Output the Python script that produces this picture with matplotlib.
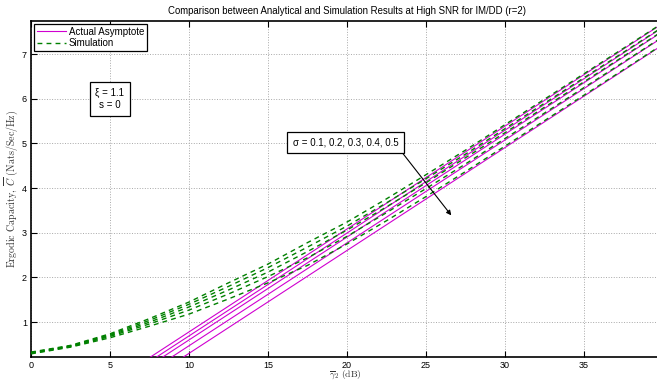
import numpy as np
import matplotlib.pyplot as plt

plt.rcParams['font.family'] = ['Liberation Sans', 'DejaVu Sans']
plt.rcParams['mathtext.fontset'] = 'cm'

# SNR grid of the simulation points (dB)
snr_db = [0, 2.5, 5, 7.5, 10, 12.5, 15, 17.5, 20, 22.5, 25, 27.5, 30, 32.5, 35, 37.5, 40]

# simulated ergodic capacity, one list per sigma (0.1 ... 0.5)
sim_01 = [0.33, 0.48, 0.74, 1.08, 1.45, 1.88, 2.30, 2.78, 3.24, 3.76, 4.30, 4.85, 5.42, 5.99, 6.56, 7.13, 7.70]
sim_02 = [0.32, 0.47, 0.72, 1.04, 1.40, 1.80, 2.22, 2.68, 3.15, 3.67, 4.21, 4.76, 5.33, 5.90, 6.47, 7.04, 7.61]
sim_03 = [0.31, 0.46, 0.70, 1.00, 1.34, 1.72, 2.12, 2.58, 3.06, 3.58, 4.12, 4.68, 5.24, 5.81, 6.38, 6.95, 7.52]
sim_04 = [0.30, 0.45, 0.68, 0.96, 1.27, 1.63, 2.02, 2.44, 2.92, 3.45, 3.99, 4.54, 5.11, 5.68, 6.25, 6.82, 7.39]
sim_05 = [0.29, 0.44, 0.65, 0.91, 1.18, 1.52, 1.88, 2.27, 2.75, 3.27, 3.81, 4.37, 4.94, 5.51, 6.08, 6.65, 7.22]
sims = [sim_01, sim_02, sim_03, sim_04, sim_05]

# asymptotes (straight lines) given by their values at 5 dB and 40 dB
asym_x = [5, 40]
asym_lo = [-0.37, -0.46, -0.55, -0.68, -0.85]
asym_hi = [7.69, 7.60, 7.51, 7.38, 7.21]

fig = plt.figure(figsize=(6.57, 3.83), dpi=100)
ax = fig.add_axes([31 / 657, 26 / 383, 40 * 15.8 / 657, 336 / 383])

for i in range(5):
    ax.plot(asym_x, [asym_lo[i], asym_hi[i]], color='#d000d0', lw=0.8,
            label='Actual Asymptote' if i == 0 else None, zorder=3)
for i, s in enumerate(sims):
    ax.plot(snr_db, s, color='#008000', lw=1.0, dashes=(3.5, 3),
            label='Simulation' if i == 0 else None, zorder=4)

ax.set_xlim(0, 40)
ax.set_ylim(0.22, 7.74)
ax.set_xticks([0, 5, 10, 15, 20, 25, 30, 35])
ax.set_yticks([1, 2, 3, 4, 5, 6, 7])
ax.tick_params(direction='in', labelsize=6.5, length=4, width=0.8, top=True, pad=3)
ax.grid(True, linestyle=':', color='#a8a8a8', lw=0.7)
for sp in ax.spines.values():
    sp.set_linewidth(1.2)

ax.set_title('Comparison between Analytical and Simulation Results at High SNR for IM/DD (r=2)',
             fontsize=6.9, pad=5)
ax.set_xlabel(r'$\overline{\gamma}_2\ \mathrm{(dB)}$', fontsize=6.9, color='#333333')
ax.xaxis.set_label_coords(0.497, -0.056, transform=ax.transAxes)
ax.xaxis.label.set_va('center')
ax.set_ylabel(r'$\mathrm{Ergodic\ Capacity,}\ \overline{C}\ \mathrm{(Nats/Sec/Hz)}$',
              fontsize=7.2, color='#333333')
ax.yaxis.set_label_coords(-0.0175, 0.5, transform=ax.transAxes)

leg = ax.legend(loc='upper left', fontsize=7, fancybox=False, framealpha=1,
                edgecolor='black', borderpad=0.3, handlelength=3.0, handletextpad=0.3,
                labelspacing=0.15, borderaxespad=0.3)
leg.get_frame().set_linewidth(0.9)

box = dict(boxstyle='square,pad=0.6', fc='white', ec='black', lw=0.9)
ax.text(5.0, 6.0, '\u03be = 1.1\ns = 0', fontsize=7, ha='center', va='center',
        bbox=box, linespacing=1.3, zorder=6)
ax.annotate('\u03c3 = 0.1, 0.2, 0.3, 0.4, 0.5', xy=(26.6, 3.39), xytext=(19.9, 5.02),
            fontsize=7, ha='center', va='center', bbox=box, zorder=6,
            arrowprops=dict(arrowstyle='-|>', color='black', lw=0.8,
                            shrinkA=0, shrinkB=0, relpos=(1, 0)))

fig.savefig('out.png', dpi=100)
